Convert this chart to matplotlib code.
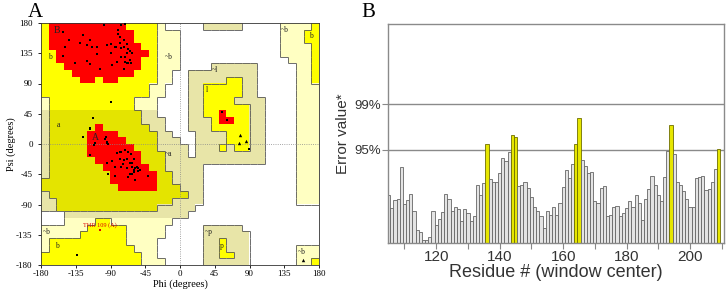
import numpy as np
import matplotlib
matplotlib.use('Agg')
import matplotlib.pyplot as plt
from matplotlib.colors import ListedColormap
from matplotlib.collections import LineCollection

plt.rcParams['font.family'] = ['Liberation Sans', 'DejaVu Sans']

# 1. Ramachandran region map (PROCHECK style), 10 degree cells
# rows run from psi=180 (top) to psi=-180, columns from phi=-180 to 180
# run-length tokens: code + count
# . disallowed, P generous, p generous (shaded band), Y allowed, y allowed (shaded), R core
region_rows = [
    "Y1 R10 Y4 P1 .5 p5 .5 P4 Y1",
    "Y1 R11 Y3 P3 .13 P3 Y2",
    "Y1 R11 Y3 P3 .13 P3 Y2",
    "Y1 R12 Y2 P3 .13 P4 Y1",
    "Y2 R12 Y1 P3 .13 P4 Y1",
    "Y2 R11 Y2 P3 .14 P3 Y1",
    "Y3 R10 Y2 P3 .4 p6 .5 P2 Y1",
    "Y4 R8 Y3 P2 .2 p9 .5 P2 Y1",
    "Y5 R2 Y1 R2 Y5 P2 .2 p5 Y2 p2 .5 P2 Y1",
    "Y14 P2 .3 p2 Y5 p2 .5 P3",
    "Y14 P2 .3 p2 Y5 p2 .5 P3",
    "P1 Y11 P3 .4 p2 Y4 p4 .4 P3",
    "P1 Y11 P3 .4 p2 Y6 p2 .4 P3",
    "p1 y12 p2 .4 p2 Y2 R1 Y3 p2 .4 P3",
    "p1 y12 p3 .3 p3 Y1 R2 Y2 p2 .4 P3",
    "p1 y6 R1 y6 p2 .3 p3 Y5 p2 .4 P3",
    "p1 y5 R4 y5 p2 .3 p4 Y3 p2 .4 P3",
    "p1 y5 R5 y4 p3 .2 p4 Y3 p2 .4 P3",
    "p1 y5 R6 y3 p4 .1 p3 Y1 p1 Y2 p2 .4 P3",
    "p1 y5 R7 y3 p3 .1 p9 .4 P3",
    "p1 y6 R6 y3 p13 .4 P3",
    "p1 y7 R6 y2 p5 .12 P3",
    "p1 y8 R6 y2 p4 .12 P3",
    "y9 R6 y2 p4 .12 P3",
    "y10 R5 y3 p3 .12 P3",
    "p1 y18 p2 .12 P3",
    "p2 y15 p4 .12 P3",
    "p2 y13 p5 .16",
    ".3 p16 .17",
    ".3 P4 Y2 P8 .19",
    "P6 Y5 P5 .5 p5 .10",
    "P5 Y6 P5 .5 p6 .9",
    "P1 Y10 P4 .6 p2 Y1 p3 .9",
    "P1 Y11 P3 .6 p2 Y1 p3 .6 P3",
    "Y13 P2 .6 p2 Y2 p2 .6 P3",
    "Y13 P3 .5 p6 .6 P2 Y1",
]
region_codes = ['.', 'P', 'p', 'Y', 'y', 'R']
region_colors = ['white', '#FFFFC2', '#E8E5A8', '#FFFF00', '#E4E400', '#FF0000']
region_level = [0, 1, 1, 2, 2, 3]

# residues (phi, psi)
phi_res = [-152, -144, -149, -152, -136, -125, -129, -121, -114, -116, -117, -108, -108,
           -103, -98, -90, -90, -84, -88, -80, -80, -77, -71, -78, -78, -72, -69, -67,
           -65, -69, -71, -77, -82, -67, -71, -69, -72, -65, -64, -62, -77, -83, -95,
           -121, -72,
           -90, -113, -117, -116, -126, -133,
           -110, -111, -96, -97, -94, -93, -95, -116, -82, -77, -71, -67, -69, -64, -60,
           -62, -65, -73, -78, -84, -88, -94, -93, -84, -77, -74, -62, -60, -58, -56,
           -59, -62, -65, -67, -54, -52, -41, -55, -69, -58, -78,
           55, 61, 89]
psi_res = [167, 154, 144, 131, 121, 162, 150, 123, 144, 119, 154, 145, 134,
           111, 177, 135, 149, 145, 117, 164, 170, 177, 178, 159, 150, 145, 149, 142,
           139, 135, 130, 129, 122, 121, 122, 120, 112, 125, 121, 135, 143, 144, 148,
           147, 154,
           62, 39, 23, 24, 11, -165,
           1, -2, 11, 8, 3, 0, 1, -17, -14, -12, -9, -12, -23, -15, -22,
           -29, -29, -24, -22, -34, -25, -29, -44, -48, -34, -30, -34, -39, -36, -34,
           -41, -44, -45, -49, -40, -39, -48, -36, -36, -54, -12,
           48, 36, -7]
# glycines (triangles)
phi_gly = [78, 76, 85, 159]
psi_gly = [13, 1, 4, -173]
# outlier
phi_out = [-104]
psi_out = [-128]
out_label = 'THR 109 (A)'

region_labels = [('B', -160, 169), ('b', -169, 130), ('a', -158, 28), ('A', -110, 10),
                 ('~b', -14, 129), ('~a', -15, -15), ('~l', 45, 110), ('l', 35, 80),
                 ('~p', 37, -131), ('p', 54, -152), ('~b', 136, 170), ('b', 170, 160),
                 ('~b', 157, -160), ('~b', -172, -131), ('b', -159, -152)]

# 2. ERRAT error values per residue (window center)
first_residue = 105
error_vals = [
    5.9, 4.3, 5.3, 5.5, 9.4, 4.8, 5.3, 6.1, 4.0, 1.65,      # 105-114
    1.3, 0.35, 0.35, 0.75, 4.0, 2.2, 3.0, 3.8, 6.1, 5.4,    # 115-124
    3.9, 4.4, 4.2, 2.7, 4.2, 3.7, 2.7, 3.4, 7.2, 5.9,       # 125-134
    7.4, 12.3, 7.9, 7.5, 7.6, 8.7, 10.5, 10.1, 11.2, 13.4,  # 135-144
    13.1, 7.0, 7.2, 7.6, 6.8, 5.7, 4.5, 4.0, 3.3, 1.8,      # 145-154
    3.9, 3.5, 4.5, 3.5, 5.0, 6.9, 9.0, 8.1, 9.8, 12.2,      # 155-164
    15.5, 10.3, 9.5, 8.7, 8.8, 5.2, 5.0, 6.8, 7.0, 3.4,     # 165-174
    3.5, 4.5, 4.6, 3.4, 3.7, 4.3, 5.2, 4.5, 6.0, 4.9,       # 175-184
    2.8, 5.5, 6.7, 8.3, 7.2, 6.0, 5.2, 8.2, 11.4, 14.6,     # 185-194
    11.0, 7.5, 7.2, 6.4, 5.5, 4.5, 4.5, 8.1, 8.2, 8.3,      # 195-204
    6.6, 6.7, 7.6, 9.2, 11.65,                              # 205-209
]
flagged = [136, 144, 145, 164, 165, 194, 209]
limit_95 = 11.526
limit_99 = 17.190

# 3. Build the region grid
def expand(row):
    s = ''
    for tok in row.split():
        s += tok[0] * int(tok[1:])
    return s

grid = np.array([[region_codes.index(c) for c in expand(r)] for r in region_rows])
lev = np.array(region_level)[grid]
nrow, ncol = grid.shape

fig = plt.figure(figsize=(7.28, 2.91), dpi=100)
serif = 'Liberation Serif'
sans = 'Liberation Sans'

# ---- Panel A ----
axA = fig.add_axes([41/728, 26/291, 278/728, 242/291])
axA.imshow(grid, cmap=ListedColormap(region_colors), vmin=-0.5, vmax=len(region_codes)-0.5,
           extent=(-180, 180, -180, 180), origin='upper', interpolation='nearest', aspect='auto')

segs = []
for i in range(nrow):
    for j in range(ncol):
        x0 = -180 + 10 * j
        ytop = 180 - 10 * i
        if j < ncol - 1 and lev[i, j] != lev[i, j + 1] and max(lev[i, j], lev[i, j + 1]) < 3:
            segs.append([(x0 + 10, ytop - 10), (x0 + 10, ytop)])
        if i < nrow - 1 and lev[i, j] != lev[i + 1, j] and max(lev[i, j], lev[i + 1, j]) < 3:
            segs.append([(x0, ytop - 10), (x0 + 10, ytop - 10)])
axA.add_collection(LineCollection(segs, colors='#555555', linewidths=0.6))

axA.axhline(0, color='#888888', ls=':', lw=0.6)
axA.axvline(0, color='#888888', ls=':', lw=0.6)

axA.scatter(phi_res, psi_res, marker='s', s=4, color='black', lw=0, zorder=3)
axA.scatter(phi_gly, psi_gly, marker='^', s=6, color='black', lw=0, zorder=3)
axA.scatter(phi_out, psi_out, marker='s', s=4, color='#DD0000', lw=0, zorder=3)
axA.text(phi_out[0], psi_out[0] + 3, out_label, color='#DD0000', fontsize=4.5,
         family=serif, ha='center', va='bottom')

for txt, x, y in region_labels:
    fs = 7 if txt in ('A', 'B') else 5.5
    axA.text(x, y, txt, fontsize=fs, family=serif, ha='center', va='center', color='#222222')

axA.set_xlim(-180, 180)
axA.set_ylim(-180, 180)
ticks = list(range(-180, 181, 45))
axA.set_xticks(ticks)
axA.set_yticks(ticks)
axA.set_xticklabels([str(t) for t in ticks], family=serif, fontsize=6.5)
axA.set_yticklabels([str(t) for t in ticks], family=serif, fontsize=6.5)
axA.tick_params(axis='x', length=2, width=0.6, pad=1.5)
axA.tick_params(axis='y', length=2, width=0.6, pad=4)
axA.set_xlabel('Phi (degrees)', family=serif, fontsize=7.5, labelpad=1)
axA.set_ylabel('Psi (degrees)', family=serif, fontsize=7.5, labelpad=0)
for sp in axA.spines.values():
    sp.set_linewidth(0.6)
    sp.set_color('#333333')

# ---- Panel B ----
residues = list(range(first_residue, first_residue + len(error_vals)))
bar_colors = ['#E6E600' if r in flagged else '#E4E4E4' for r in residues]
bar_edges = ['#6E6E00' if r in flagged else '#666666' for r in residues]

axB = fig.add_axes([388/728, 48/291, 336/728, 219/291])
axB.axhline(limit_95, color='#8A8A8A', lw=1.0, zorder=1)
axB.axhline(limit_99, color='#8A8A8A', lw=1.0, zorder=1)
axB.bar(residues, error_vals, width=1.0, color=bar_colors, edgecolor=bar_edges,
        linewidth=0.6, zorder=2)
axB.set_xlim(104.8, 210.7)
axB.set_ylim(0, 27.1)
axB.set_xticks(range(120, 201, 20))
axB.set_xticks(range(110, 211, 10), minor=True)
axB.set_xticklabels([str(t) for t in range(120, 201, 20)], fontfamily=sans, fontsize=11,
                    color='#333333')
axB.set_yticks([limit_95, limit_99])
axB.set_yticklabels(['95%', '99%'], fontfamily=sans, fontsize=9.5, color='#333333')
axB.tick_params(axis='both', which='both', length=4, width=0.8, color='#888888', pad=1)
axB.set_xlabel('Residue # (window center)', fontfamily=sans, fontsize=13, color='#333333',
               labelpad=0)
axB.set_ylabel('Error value*', fontfamily=sans, fontsize=11, color='#333333', labelpad=3)
for sp in axB.spines.values():
    sp.set_linewidth(1.0)
    sp.set_color('#8A8A8A')

# panel letters
fig.text(28/728, 1 - 17/291, 'A', family=serif, fontsize=15)
fig.text(361/728, 1 - 17/291, 'B', family=serif, fontsize=15)

fig.savefig('out.png', dpi=100, facecolor='white')
